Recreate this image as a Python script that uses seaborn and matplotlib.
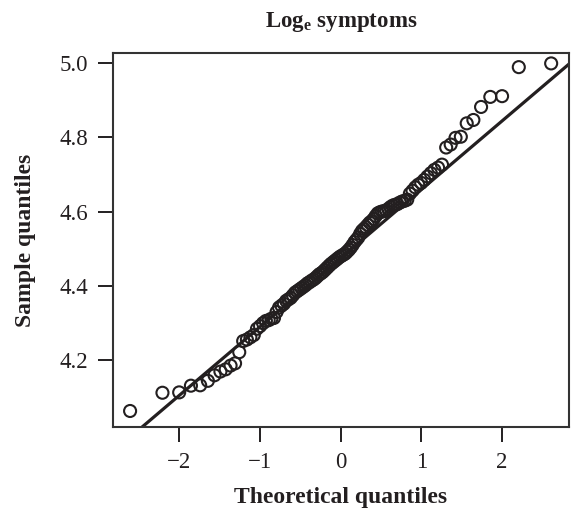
import statistics
import numpy as np
import pandas as pd
import matplotlib
matplotlib.use("Agg")
import matplotlib.pyplot as plt
import seaborn as sns

# log_e symptoms, sorted sample values (n = 110)
sample = [
    4.064, 4.113, 4.114, 4.132, 4.133, 4.145, 4.160, 4.170, 4.176, 4.186,
    4.192, 4.222, 4.252, 4.256, 4.262, 4.268, 4.285, 4.292, 4.300, 4.306,
    4.308, 4.312, 4.314, 4.330, 4.342, 4.347, 4.352, 4.360, 4.364, 4.368,
    4.375, 4.382, 4.386, 4.390, 4.394, 4.398, 4.402, 4.407, 4.410, 4.414,
    4.417, 4.421, 4.426, 4.431, 4.434, 4.438, 4.443, 4.448, 4.453, 4.458,
    4.462, 4.466, 4.470, 4.474, 4.478, 4.481, 4.484, 4.487, 4.492, 4.497,
    4.503, 4.510, 4.518, 4.524, 4.530, 4.540, 4.548, 4.553, 4.558, 4.564,
    4.570, 4.574, 4.580, 4.588, 4.595, 4.598, 4.600, 4.601, 4.603, 4.607,
    4.612, 4.616, 4.618, 4.620, 4.624, 4.627, 4.629, 4.632, 4.648, 4.656,
    4.665, 4.672, 4.677, 4.685, 4.694, 4.703, 4.712, 4.718, 4.726, 4.772,
    4.780, 4.798, 4.801, 4.837, 4.846, 4.881, 4.908, 4.910, 4.988, 4.998,
]

# reference line (qqline)
line_intercept = 4.4745
line_slope = 0.1844

x_ticks = [-2, -1, 0, 1, 2]
x_ticklabels = ["\u22122", "\u22121", "0", "1", "2"]
y_ticks = [4.2, 4.4, 4.6, 4.8, 5.0]

# theoretical normal quantiles (R ppoints, a = 0.5)
n = len(sample)
nd = statistics.NormalDist()
theo = [nd.inv_cdf((i - 0.5) / n) for i in range(1, n + 1)]
df = pd.DataFrame({"theoretical": theo, "sample": sample})

ink = "#231f20"

sns.set_theme(style="ticks")
plt.rcParams["font.family"] = ["Liberation Serif", "DejaVu Serif"]
plt.rcParams["mathtext.fontset"] = "custom"
plt.rcParams["mathtext.rm"] = "Liberation Serif"
plt.rcParams["mathtext.bf"] = "Liberation Serif:bold"

fig = plt.figure(figsize=(5.72, 5.16), dpi=100)
ax = fig.add_axes([0.1976, 0.1725, 0.7972, 0.7248])

sns.scatterplot(data=df, x="theoretical", y="sample", ax=ax, s=75,
                marker="o", linewidth=1.5, zorder=3)
pts = ax.collections[0]
pts.set_facecolor("none")
pts.set_edgecolor(ink)

ax.axline((0, line_intercept), slope=line_slope, color=ink, lw=2.3, zorder=2)

ax.set_xlim(-2.82, 2.83)
ax.set_ylim(4.021, 5.026)
ax.set_xticks(x_ticks)
ax.set_xticklabels(x_ticklabels)
ax.set_yticks(y_ticks)
ax.set_yticklabels([f"{v:.1f}" for v in y_ticks])

for sp in ax.spines.values():
    sp.set_visible(True)
    sp.set_linewidth(1.5)
    sp.set_color("#333333")
ax.tick_params(direction="out", length=11, width=1.4, color=ink,
               labelsize=16.5, labelcolor=ink, pad=7)

ax.set_title("Log$_{\\mathbf{e}}$ symptoms", fontsize=16.5, fontweight="bold",
             color=ink, pad=19)
ax.set_xlabel("Theoretical quantiles", fontsize=17, fontweight="bold",
              color=ink, labelpad=10)
ax.set_ylabel("Sample quantiles", fontsize=17, fontweight="bold",
              color=ink, labelpad=17)

fig.savefig("out.png", dpi=100)
